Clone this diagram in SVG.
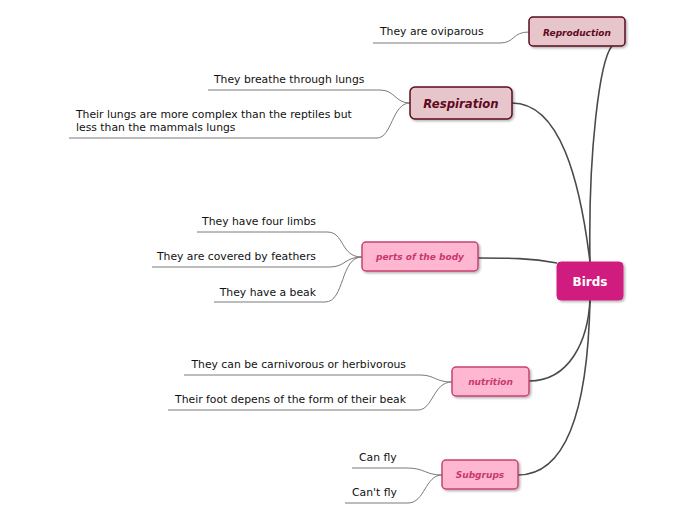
<svg xmlns="http://www.w3.org/2000/svg" width="696" height="520" viewBox="0 0 696 520">
<defs>
<filter id="sh" x="-10%" y="-10%" width="130%" height="140%">
<feDropShadow dx="1.5" dy="1.5" stdDeviation="1" flood-color="#000" flood-opacity="0.3"/>
</filter>
<style>
.main{fill:none;stroke:#4a4a4a;stroke-width:1.6}
.leaf{fill:none;stroke:#7a7a7a;stroke-width:1}
.dark{fill:#e6c6cb;stroke:#5e0a1f;stroke-width:1.5;filter:url(#sh)}
.pink{fill:#ffb7d1;stroke:#c8436f;stroke-width:1.5;filter:url(#sh)}
.root{fill:#d11f7f;stroke:#d11f7f;stroke-width:1;filter:url(#sh)}
.tdark{fill:#5e0a1f;font-family:"DejaVu Sans",Verdana,sans-serif;font-weight:bold;font-style:italic;text-anchor:middle}
.tpink{fill:#c8386c;font-family:"DejaVu Sans",Verdana,sans-serif;font-weight:bold;font-style:italic;font-size:9px;text-anchor:middle}
.troot{fill:#fff;font-family:"DejaVu Sans",Verdana,sans-serif;font-weight:bold;font-size:12px;text-anchor:middle}
.t{fill:#111;font-family:"DejaVu Sans",Verdana,sans-serif;font-size:10.8px}
.te{fill:#111;font-family:"DejaVu Sans",Verdana,sans-serif;font-size:10.8px;text-anchor:end}
</style>
</defs>
<g id="connectors">
<path class="main" d="M590,262 C588,150 600,60 612,46"/>
<path class="main" d="M590,262 C580,180 560,103 512,103"/>
<path class="main" d="M557,263 C530,258 510,258 478,258"/>
<path class="main" d="M590,300 C588,340 570,381 529,381"/>
<path class="main" d="M590,300 C588,400 570,475 518,475"/>
<path class="leaf" d="M373,43 L500,43 C515,43 512,32 529,32"/>
<path class="leaf" d="M208,90 L380,90 C395,90 395,103 410,103"/>
<path class="leaf" d="M69,138 L377,138 C392,138 392,103 410,103"/>
<path class="leaf" d="M197,232 L327,232 C345,232 340,257 362,257"/>
<path class="leaf" d="M152,267 L330,267 C345,267 345,257 362,257"/>
<path class="leaf" d="M214,302 L325,302 C345,302 340,257 362,257"/>
<path class="leaf" d="M184,375 L420,375 C435,375 435,382 452,382"/>
<path class="leaf" d="M168,410 L418,410 C433,410 433,382 452,382"/>
<path class="leaf" d="M352,468 L407,468 C425,468 425,475 442,475"/>
<path class="leaf" d="M345,503 L408,503 C425,503 425,475 442,475"/>
</g>
<g id="birds">
<rect class="root" x="557" y="262" width="66" height="38" rx="4"/>
<text class="troot" x="590" y="286">Birds</text>
</g>
<g id="reproduction">
<rect class="dark" x="529" y="17" width="96" height="29" rx="4"/>
<text class="tdark" x="577" y="36" font-size="9px">Reproduction</text>
</g>
<g id="respiration">
<rect class="dark" x="410" y="87" width="102" height="32" rx="5"/>
<text class="tdark" x="461" y="108" font-size="11.7px">Respiration</text>
</g>
<g id="perts">
<rect class="pink" x="362" y="242" width="116" height="29" rx="4"/>
<text class="tpink" x="420" y="260">perts of the body</text>
</g>
<g id="nutrition">
<rect class="pink" x="452" y="367" width="77" height="29" rx="4"/>
<text class="tpink" x="490.5" y="385">nutrition</text>
</g>
<g id="subgrups">
<rect class="pink" x="442" y="460" width="76" height="29" rx="4"/>
<text class="tpink" x="480" y="478">Subgrups</text>
</g>
<g id="leaf-oviparous"><text class="t" x="380" y="35">They are oviparous</text></g>
<g id="leaf-breathe"><text class="t" x="214" y="83">They breathe through lungs</text></g>
<g id="leaf-lungs"><text class="t" x="76" y="118">Their lungs are more complex than the reptiles but</text><text class="t" x="76" y="131">less than the mammals lungs</text></g>
<g id="leaf-limbs"><text class="te" x="316" y="225">They have four limbs</text></g>
<g id="leaf-feathers"><text class="te" x="316" y="260">They are covered by feathers</text></g>
<g id="leaf-beak"><text class="te" x="316" y="296">They have a beak</text></g>
<g id="leaf-carn"><text class="te" x="406" y="368">They can be carnivorous or herbivorous</text></g>
<g id="leaf-foot"><text class="te" x="406" y="403">Their foot depens of the form of their beak</text></g>
<g id="leaf-canfly"><text class="t" x="359" y="461">Can fly</text></g>
<g id="leaf-cantfly"><text class="t" x="352" y="496">Can't fly</text></g>
</svg>
